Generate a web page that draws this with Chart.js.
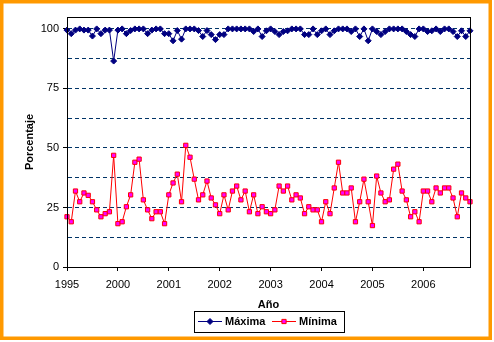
<!DOCTYPE html>
<html>
<head>
<meta charset="utf-8">
<script src="https://cdn.jsdelivr.net/npm/chart.js@4/dist/chart.umd.min.js"></script>
<style>
  body { margin: 0; background: #fff; }
  canvas { display: block; }
</style>
</head>
<body>
<canvas id="grafico" width="494" height="342"></canvas>
<script>
// etiquetas de año (una por cada 12 meses)
const anios = ['1995', '2000', '2001', '2002', '2003', '2004', '2005', '2006'];

// humedad relativa mensual (%)
const maxima = [
  99.5, 98, 99.5, 100, 99.5, 99.5, 97, 100, 98, 99.5, 99.5, 86.5,
  99.5, 100, 98, 99.3, 100, 100, 100, 98, 99.5, 100, 100, 98,
  98, 95, 99.3, 95.7, 100, 100, 100, 99.3, 96.8, 99.3, 97.6, 95.5,
  97.6, 97.6, 100, 100, 100, 100, 100, 100, 98.9, 100, 96.8, 99.2,
  100, 98.9, 97.6, 98.9, 99.2, 100, 100, 100, 97.6, 97.6, 100, 97.6,
  99.2, 100, 97.6, 99.2, 100, 100, 100, 98.9, 100, 96.8, 100, 95,
  100, 98.9, 97.6, 98.9, 100, 100, 100, 100, 98.9, 97.6, 96.8, 100,
  100, 98.9, 99.2, 100, 98.9, 100, 100, 98.9, 96.8, 99.2, 96.8, 99.2
];
const minima = [
  21.1, 19, 31.9, 27.4, 31.1, 30.1, 27.4, 24, 21.1, 22.4, 23.2, 46.9,
  18.2, 19, 25.3, 30.3, 44, 45.3, 28.2, 24, 20.3, 23.2, 23.2, 18.2,
  30.3, 35.3, 39, 27.4, 51.1, 46.1, 36.9, 28.2, 30.3, 36.1, 29, 26.1,
  22.4, 30.3, 24, 31.9, 34, 28.2, 31.9, 23.2, 30.3, 22.4, 25.3, 23.2,
  22.4, 24, 34, 31.9, 34, 28.2, 30.3, 29, 22.4, 25.3, 24, 24,
  19, 27.4, 22.4, 33.2, 44, 31.1, 31.1, 33.2, 19, 27.4, 36.9, 27.4,
  17.4, 38.2, 31.1, 27.4, 28.2, 41.1, 43.2, 31.9, 28.2, 21.1, 23.2, 19,
  31.9, 31.9, 27.4, 33.2, 31.1, 33.2, 33.2, 29, 21.1, 31.1, 29, 27.4
];

const meses = maxima.map((_, i) => (i % 12 === 0 ? anios[i / 12] : ''));

const AZUL = '#000080';
const ROJO = '#FF0000';
const REJILLA = '#003366';

Chart.defaults.font.family = '"Liberation Sans", Arial, sans-serif';
Chart.defaults.font.size = 11;
Chart.defaults.color = '#000';

// marco naranja, borde del área de trazado y leyenda con caja
const marco = {
  id: 'marco',
  beforeDraw(chart) {
    const {ctx} = chart;
    ctx.save();
    ctx.fillStyle = '#fff';
    ctx.fillRect(0, 0, chart.width, chart.height);
    ctx.restore();
  },
  afterDraw(chart) {
    const {ctx, chartArea: a} = chart;
    ctx.save();
    ctx.strokeStyle = '#000';
    ctx.lineWidth = 1;
    ctx.strokeRect(Math.round(a.left) + 0.5, Math.round(a.top) + 0.5,
      Math.round(a.right - a.left), Math.round(a.bottom - a.top));

    ctx.strokeStyle = '#FF9900';
    ctx.lineWidth = 3.5;
    ctx.strokeRect(1.75, 1.75, 488.5, 336.5);

    // leyenda
    ctx.lineWidth = 1;
    ctx.strokeStyle = '#000';
    ctx.strokeRect(194.5, 311.5, 150, 21);
    const items = [{x: 198, ds: chart.data.datasets[0]}, {x: 272, ds: chart.data.datasets[1]}];
    const y = 321.5;
    ctx.font = 'bold 11px "Liberation Sans", Arial, sans-serif';
    ctx.textBaseline = 'middle';
    items.forEach(({x, ds}) => {
      ctx.strokeStyle = ds.borderColor;
      ctx.beginPath();
      ctx.moveTo(x, y);
      ctx.lineTo(x + 24, y);
      ctx.stroke();
      ctx.fillStyle = ds.pointBackgroundColor;
      ctx.strokeStyle = ds.pointBorderColor;
      Chart.helpers.drawPoint(ctx, {pointStyle: ds.pointStyle, radius: ds.pointRadius, borderWidth: 1, rotation: 0}, x + 12, y);
      ctx.fillStyle = '#000';
      ctx.fillText(ds.label, x + 27, y + 0.5);
    });
    ctx.restore();
  }
};

new Chart(document.getElementById('grafico'), {
  type: 'line',
  data: {
    labels: meses,
    datasets: [
      {
        label: 'Máxima',
        data: maxima,
        borderColor: AZUL,
        borderWidth: 1,
        pointStyle: 'rectRot',
        pointRadius: 3,
        pointBackgroundColor: AZUL,
        pointBorderColor: AZUL,
        pointBorderWidth: 1,
        tension: 0
      },
      {
        label: 'Mínima',
        data: minima,
        borderColor: ROJO,
        borderWidth: 1,
        pointStyle: 'rect',
        pointRadius: 3,
        pointBackgroundColor: '#FF00FF',
        pointBorderColor: ROJO,
        pointBorderWidth: 1,
        tension: 0
      }
    ]
  },
  options: {
    responsive: false,
    animation: false,
    layout: {padding: {top: 17, right: 24, bottom: 30, left: 0}},
    plugins: {
      legend: {display: false},
      tooltip: {enabled: false}
    },
    scales: {
      x: {
        type: 'category',
        offset: false,
        afterFit: (s) => { s.height = 45; },
        border: {color: '#000', width: 1},
        grid: {
          drawOnChartArea: false,
          tickLength: 4,
          tickColor: (c) => (c.index % 12 === 0 ? '#000' : 'transparent')
        },
        ticks: {autoSkip: false, maxRotation: 0, padding: 7},
        title: {
          display: true,
          text: 'Año',
          font: {weight: 'bold', size: 11},
          padding: {top: 0, bottom: 0}
        }
      },
      y: {
        min: 0,
        max: 105,
        bounds: 'data',
        afterFit: (s) => { s.width = 67; },
        border: {color: '#000', width: 1, dash: [4, 3]},
        grid: {
          color: (c) => (c.tick && c.tick.value === 0 ? 'transparent' : REJILLA),
          tickLength: 4,
          tickBorderDash: [],
          tickColor: (c) => (c.tick && c.tick.value % 25 === 0 ? '#000' : 'transparent')
        },
        ticks: {
          stepSize: 12.5,
          includeBounds: false,
          padding: 4,
          callback: (v) => (v % 25 === 0 ? v : '')
        },
        title: {
          display: true,
          text: 'Porcentaje',
          font: {weight: 'bold', size: 11},
          padding: {top: 23, bottom: 0}
        }
      }
    }
  },
  plugins: [marco]
});
</script>
</body>
</html>
